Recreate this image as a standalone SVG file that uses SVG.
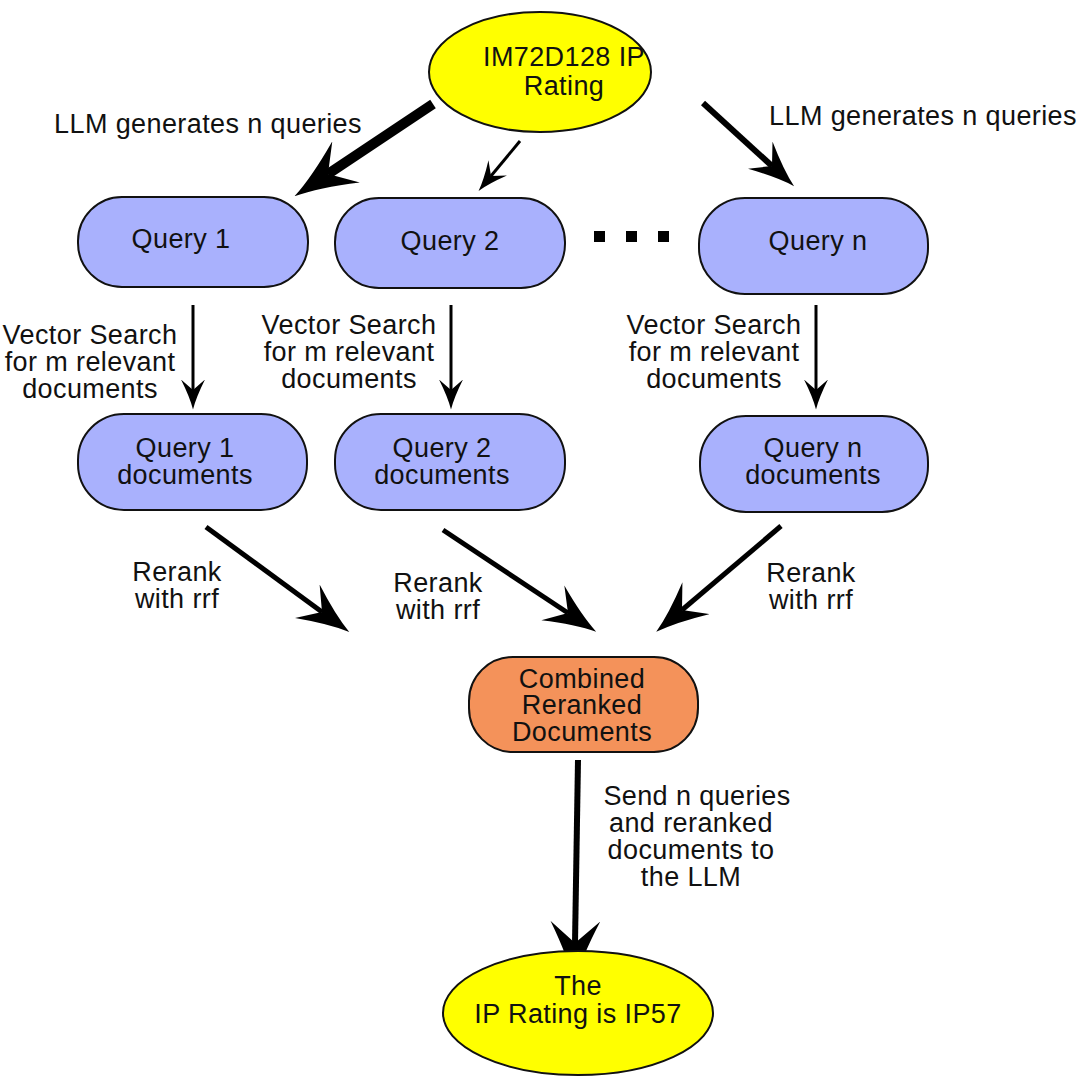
<svg xmlns="http://www.w3.org/2000/svg" width="1080" height="1083" viewBox="0 0 1080 1083">
<style>
text{font-family:"Liberation Sans",Arial,sans-serif;font-size:27px;fill:#111;text-anchor:middle;letter-spacing:0.4px}
.q{fill:#a9b1fd;stroke:#111;stroke-width:2}
.e{fill:#ffff00;stroke:#111;stroke-width:2}
.c{stroke:#000;fill:none}
</style>
<defs>
<marker id="a60" viewBox="0 0 10 8" refX="3.5" refY="4" markerWidth="62" markerHeight="50" markerUnits="userSpaceOnUse" orient="auto"><path d="M0,0Q6,3 10,4Q6,5 0,8L3.5,4z"/></marker>
<marker id="a50" viewBox="0 0 10 8" refX="3.5" refY="4" markerWidth="52" markerHeight="42" markerUnits="userSpaceOnUse" orient="auto"><path d="M0,0Q6,3 10,4Q6,5 0,8L3.5,4z"/></marker>
<marker id="a45" viewBox="0 0 10 8" refX="3.5" refY="4" markerWidth="46" markerHeight="37" markerUnits="userSpaceOnUse" orient="auto"><path d="M0,0Q6,3 10,4Q6,5 0,8L3.5,4z"/></marker>
<marker id="a30" viewBox="0 0 10 8" refX="3.5" refY="4" markerWidth="30" markerHeight="24" markerUnits="userSpaceOnUse" orient="auto"><path d="M0,0Q6,3 10,4Q6,5 0,8L3.5,4z"/></marker>
</defs>
<rect width="1080" height="1083" fill="#fff"/>
<g id="connectors">
<line class="c" x1="433" y1="104" x2="328" y2="174" stroke-width="10" marker-end="url(#a60)"/>
<line class="c" x1="520" y1="141" x2="491" y2="176" stroke-width="3" marker-end="url(#a30)"/>
<line class="c" x1="703" y1="103" x2="772" y2="166" stroke-width="6" marker-end="url(#a45)"/>
<line class="c" x1="193" y1="305" x2="193" y2="390" stroke-width="3" marker-end="url(#a30)"/>
<line class="c" x1="451" y1="305" x2="451" y2="390" stroke-width="3" marker-end="url(#a30)"/>
<line class="c" x1="816" y1="305" x2="816" y2="390" stroke-width="3" marker-end="url(#a30)"/>
<line class="c" x1="206" y1="527" x2="322" y2="612" stroke-width="5" marker-end="url(#a50)"/>
<line class="c" x1="443" y1="530" x2="568" y2="613" stroke-width="5" marker-end="url(#a50)"/>
<line class="c" x1="781" y1="526" x2="682" y2="610" stroke-width="5" marker-end="url(#a50)"/>
<line class="c" x1="578" y1="760" x2="575" y2="943" stroke-width="6" marker-end="url(#a60)"/>
<text x="208" y="133">LLM generates n queries</text>
<text x="923" y="125">LLM generates n queries</text>
<text x="90" y="344">Vector Search</text><text x="90" y="371">for m relevant</text><text x="90" y="398">documents</text>
<text x="349" y="334">Vector Search</text><text x="349" y="361">for m relevant</text><text x="349" y="388">documents</text>
<text x="714" y="334">Vector Search</text><text x="714" y="361">for m relevant</text><text x="714" y="388">documents</text>
<text x="177" y="581">Rerank</text><text x="177" y="608">with rrf</text>
<text x="438" y="592">Rerank</text><text x="438" y="619">with rrf</text>
<text x="811" y="582">Rerank</text><text x="811" y="609">with rrf</text>
<text x="697" y="805">Send n queries</text><text x="691" y="832">and reranked</text><text x="691" y="859">documents to</text><text x="691" y="886">the LLM</text>
</g>
<g id="top"><ellipse class="e" cx="540" cy="72" rx="111" ry="60"/><text x="564" y="66">IM72D128 IP</text><text x="564" y="95">Rating</text></g>
<g id="q1"><rect class="q" x="78" y="197" width="230" height="90" rx="44"/><text x="181" y="248">Query 1</text></g>
<g id="q2"><rect class="q" x="335" y="198" width="230" height="90" rx="44"/><text x="450" y="250">Query 2</text></g>
<g id="dots"><rect x="594" y="231" width="11" height="11"/><rect x="626" y="231" width="11" height="11"/><rect x="658" y="231" width="11" height="11"/></g>
<g id="qn"><rect class="q" x="699" y="198" width="229" height="96" rx="46"/><text x="818" y="250">Query n</text></g>
<g id="d1"><rect class="q" x="78" y="414" width="229" height="96" rx="46"/><text x="185" y="457">Query 1</text><text x="185" y="484">documents</text></g>
<g id="d2"><rect class="q" x="335" y="414" width="230" height="96" rx="46"/><text x="442" y="457">Query 2</text><text x="442" y="484">documents</text></g>
<g id="dn"><rect class="q" x="700" y="416" width="228" height="96" rx="46"/><text x="813" y="457">Query n</text><text x="813" y="484">documents</text></g>
<g id="comb"><rect x="469" y="657" width="229" height="95" rx="44" fill="#f4925a" stroke="#111" stroke-width="2"/><text x="582" y="688">Combined</text><text x="582" y="714">Reranked</text><text x="582" y="741">Documents</text></g>
<g id="bottom"><ellipse class="e" cx="578" cy="1013" rx="135" ry="62"/><text x="578" y="995">The</text><text x="578" y="1023">IP Rating is IP57</text></g>
</svg>
